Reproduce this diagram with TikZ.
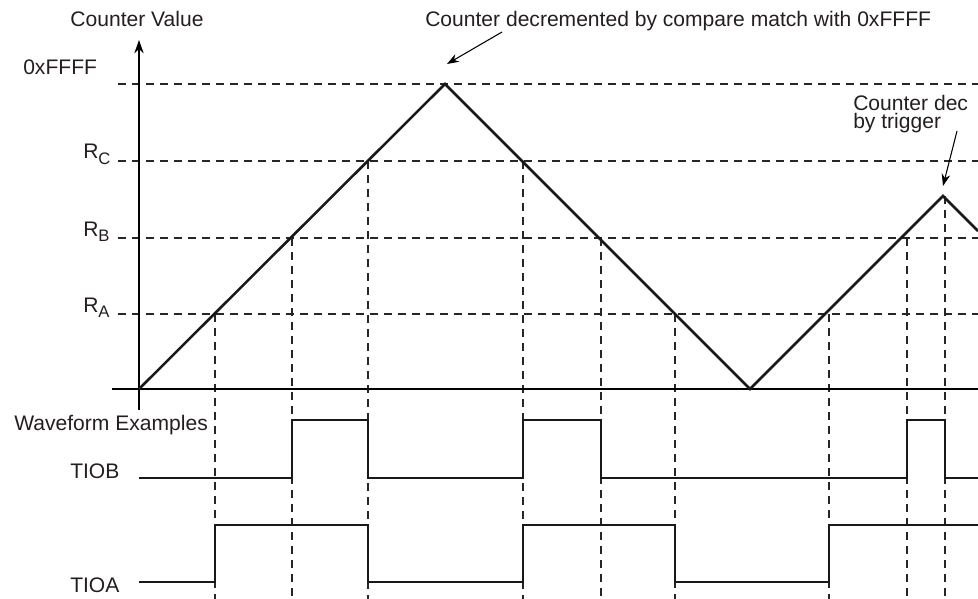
\documentclass[tikz,border=0pt]{standalone}
\usepackage{fontspec}
\setmainfont{Liberation Sans}
\usetikzlibrary{arrows.meta}
\definecolor{txt}{RGB}{35,31,32}
\newcommand{\Rsub}[1]{R\raisebox{-0.45ex}{\fontsize{12.5}{12.5}\selectfont #1}}
\begin{document}
\begin{tikzpicture}[x=0.75pt,y=-0.75pt,
  lbl/.style={font=\fontsize{15.8}{16}\selectfont, text=txt, inner sep=0pt},
  guide/.style={line width=0.9pt, dash pattern=on 6pt off 4.5pt, draw=black!85},
  wave/.style={line width=1.9pt, line join=miter, draw=black!90},
  tri/.style={line width=1.9pt, line join=miter, draw=black!90},
  axis/.style={line width=1.1pt, draw=black},
  note/.style={line width=0.8pt, draw=black, -{Stealth[length=9pt,width=6.5pt]}}]
\useasboundingbox (0,0) rectangle (978,599);
\clip (0,0) rectangle (978,599);

% key points
\coordinate (O) at (139,389);
\coordinate (P1) at (445,84);
\coordinate (V) at (750,389);
\coordinate (P2) at (943,196);
\coordinate (E) at (978,231);

% horizontal guides
\foreach \yy in {84,161,238,314} \draw[guide] (118,\yy) -- (978,\yy);

% vertical guides
\foreach \xx/\yy in {215/314,292/238,368/161,523/161,601/238,675/314,829/314,907/238,945/196}
  \draw[guide] (\xx,\yy) -- (\xx,599);

% axes
\draw[axis] (112,389) -- (978,389);
\draw[axis,-{Stealth[length=10pt,width=7pt]}] (139,410) -- (139,40);

% counter
\draw[tri] (O) -- (P1) -- (V) -- (P2) -- (E);

% waveforms
\draw[wave] (139,478) -| (292,420) -| (368,478) -| (523,420) -| (601,478) -| (907,420) -| (945,478) -- (978,478);
\draw[wave] (139,582) -| (215,525) -| (368,582) -| (523,525) -| (675,582) -| (829,525) -- (978,525);

% labels
\node[lbl,anchor=base] (cv) at (137,27) {Counter Value};
\node[lbl,anchor=base west] (ff) at (23,75) {0xFFFF};
\node[lbl,anchor=base west] (rc) at (83,159) {\Rsub{C}};
\node[lbl,anchor=base west] (rb) at (83,236) {\Rsub{B}};
\node[lbl,anchor=base west] (ra) at (83,312) {\Rsub{A}};
\node[lbl,anchor=base west] (we) at (14,430) {Waveform Examples};
\node[lbl,anchor=base west] (tb) at (70,478) {TIOB};
\node[lbl,anchor=base west] (ta) at (70,592) {TIOA};

% annotations
\node[lbl,anchor=base west] (n1) at (425,27) {Counter decremented by compare match with 0xFFFF};
\coordinate (n1s) at (502,32);
\coordinate (n1e) at (447,64);
\draw[note] (n1s) -- (n1e);
\node[lbl,font=\fontsize{15.8}{13.5}\selectfont,align=left,anchor=north west] (n2) at (853,95) {Counter dec\\by trigger};
\coordinate (n2s) at (957,131);
\coordinate (n2e) at (943,186);
\draw[note] (n2s) -- (n2e);
\end{tikzpicture}
\end{document}
